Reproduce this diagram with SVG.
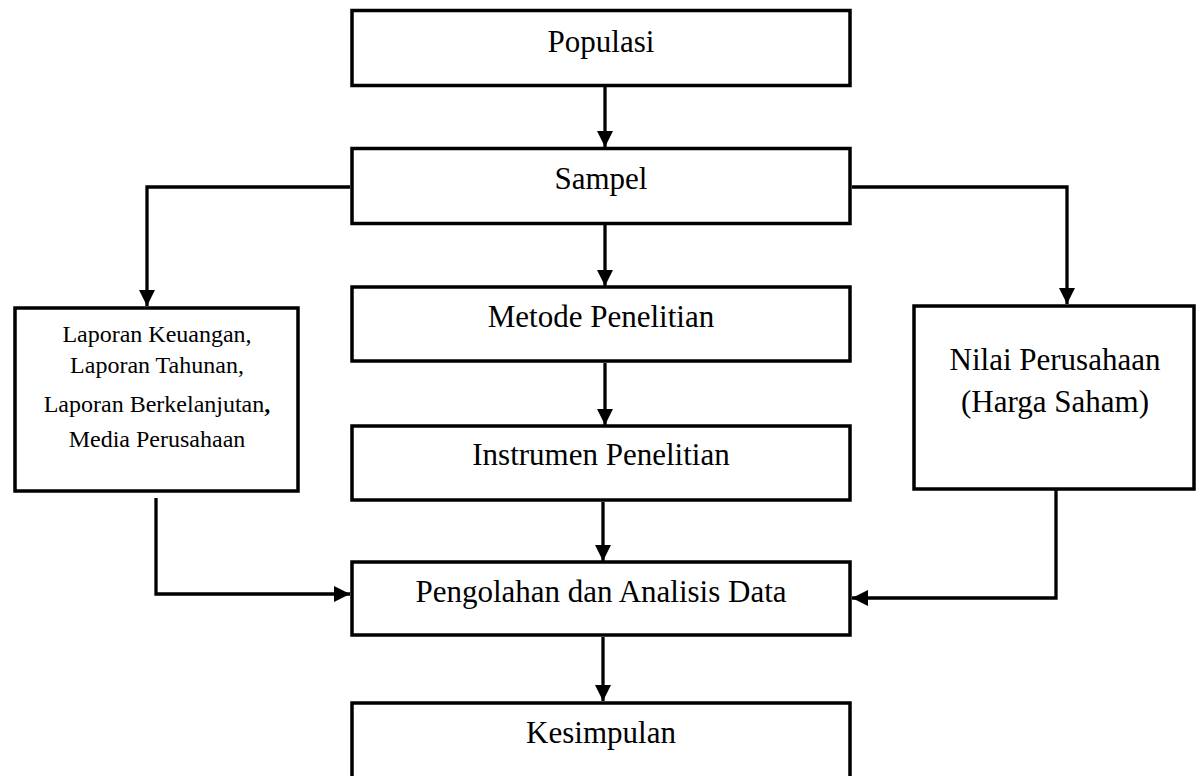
<svg xmlns="http://www.w3.org/2000/svg" width="1197" height="776" viewBox="0 0 1197 776">
<style>
.box{fill:#fff;stroke:#000;stroke-width:3.5}
.t{font-family:"Liberation Serif","Times New Roman",serif;font-size:31px;fill:#000;text-anchor:middle}
.s{font-family:"Liberation Serif","Times New Roman",serif;font-size:24px;fill:#000;text-anchor:middle}
.c{fill:none;stroke:#000;stroke-width:3.3;marker-end:url(#ah)}
</style>
<defs>
<marker id="ah" markerUnits="userSpaceOnUse" markerWidth="16" markerHeight="16" refX="16" refY="8" orient="auto">
<path d="M0,0 L16,8 L0,16 z" fill="#000"/>
</marker>
</defs>
<rect width="1197" height="776" fill="#fff"/>
<g id="connectors">
<line class="c" x1="605" y1="86" x2="605" y2="147"/>
<line class="c" x1="605" y1="225" x2="605" y2="286"/>
<line class="c" x1="605" y1="363" x2="605" y2="425"/>
<line class="c" x1="603" y1="502" x2="603" y2="561"/>
<line class="c" x1="603" y1="637" x2="603" y2="701"/>
<polyline class="c" points="350,187 147,187 147,306"/>
<polyline class="c" points="852,187 1067,187 1067,304"/>
<polyline class="c" points="156,498 156,594 350,594"/>
<polyline class="c" points="1056,482 1056,598 852,598"/>
</g>
<g id="populasi"><rect class="box" x="352" y="10.5" width="498" height="75"/><text class="t" x="601" y="52">Populasi</text></g>
<g id="sampel"><rect class="box" x="352" y="148.5" width="498" height="75"/><text class="t" x="601" y="189">Sampel</text></g>
<g id="metode"><rect class="box" x="352" y="287" width="498" height="74"/><text class="t" x="601" y="327">Metode Penelitian</text></g>
<g id="instrumen"><rect class="box" x="352" y="426" width="498" height="74"/><text class="t" x="601" y="465">Instrumen Penelitian</text></g>
<g id="pengolahan"><rect class="box" x="352" y="562" width="498" height="73"/><text class="t" x="601" y="602">Pengolahan dan Analisis Data</text></g>
<g id="kesimpulan"><rect class="box" x="352" y="703" width="498" height="100"/><text class="t" x="601" y="743">Kesimpulan</text></g>
<g id="laporan"><rect class="box" x="15" y="308" width="283" height="183"/>
<text class="s" x="157" y="342">Laporan Keuangan,</text>
<text class="s" x="157" y="373">Laporan Tahunan,</text>
<text class="s" x="157" y="412">Laporan Berkelanjutan<tspan font-weight="bold">,</tspan></text>
<text class="s" x="157" y="447">Media Perusahaan</text>
</g>
<g id="nilai"><rect class="box" x="914" y="306" width="280" height="183"/>
<text class="t" x="1055" y="370">Nilai Perusahaan</text>
<text class="t" x="1055" y="412">(Harga Saham)</text>
</g>
</svg>
